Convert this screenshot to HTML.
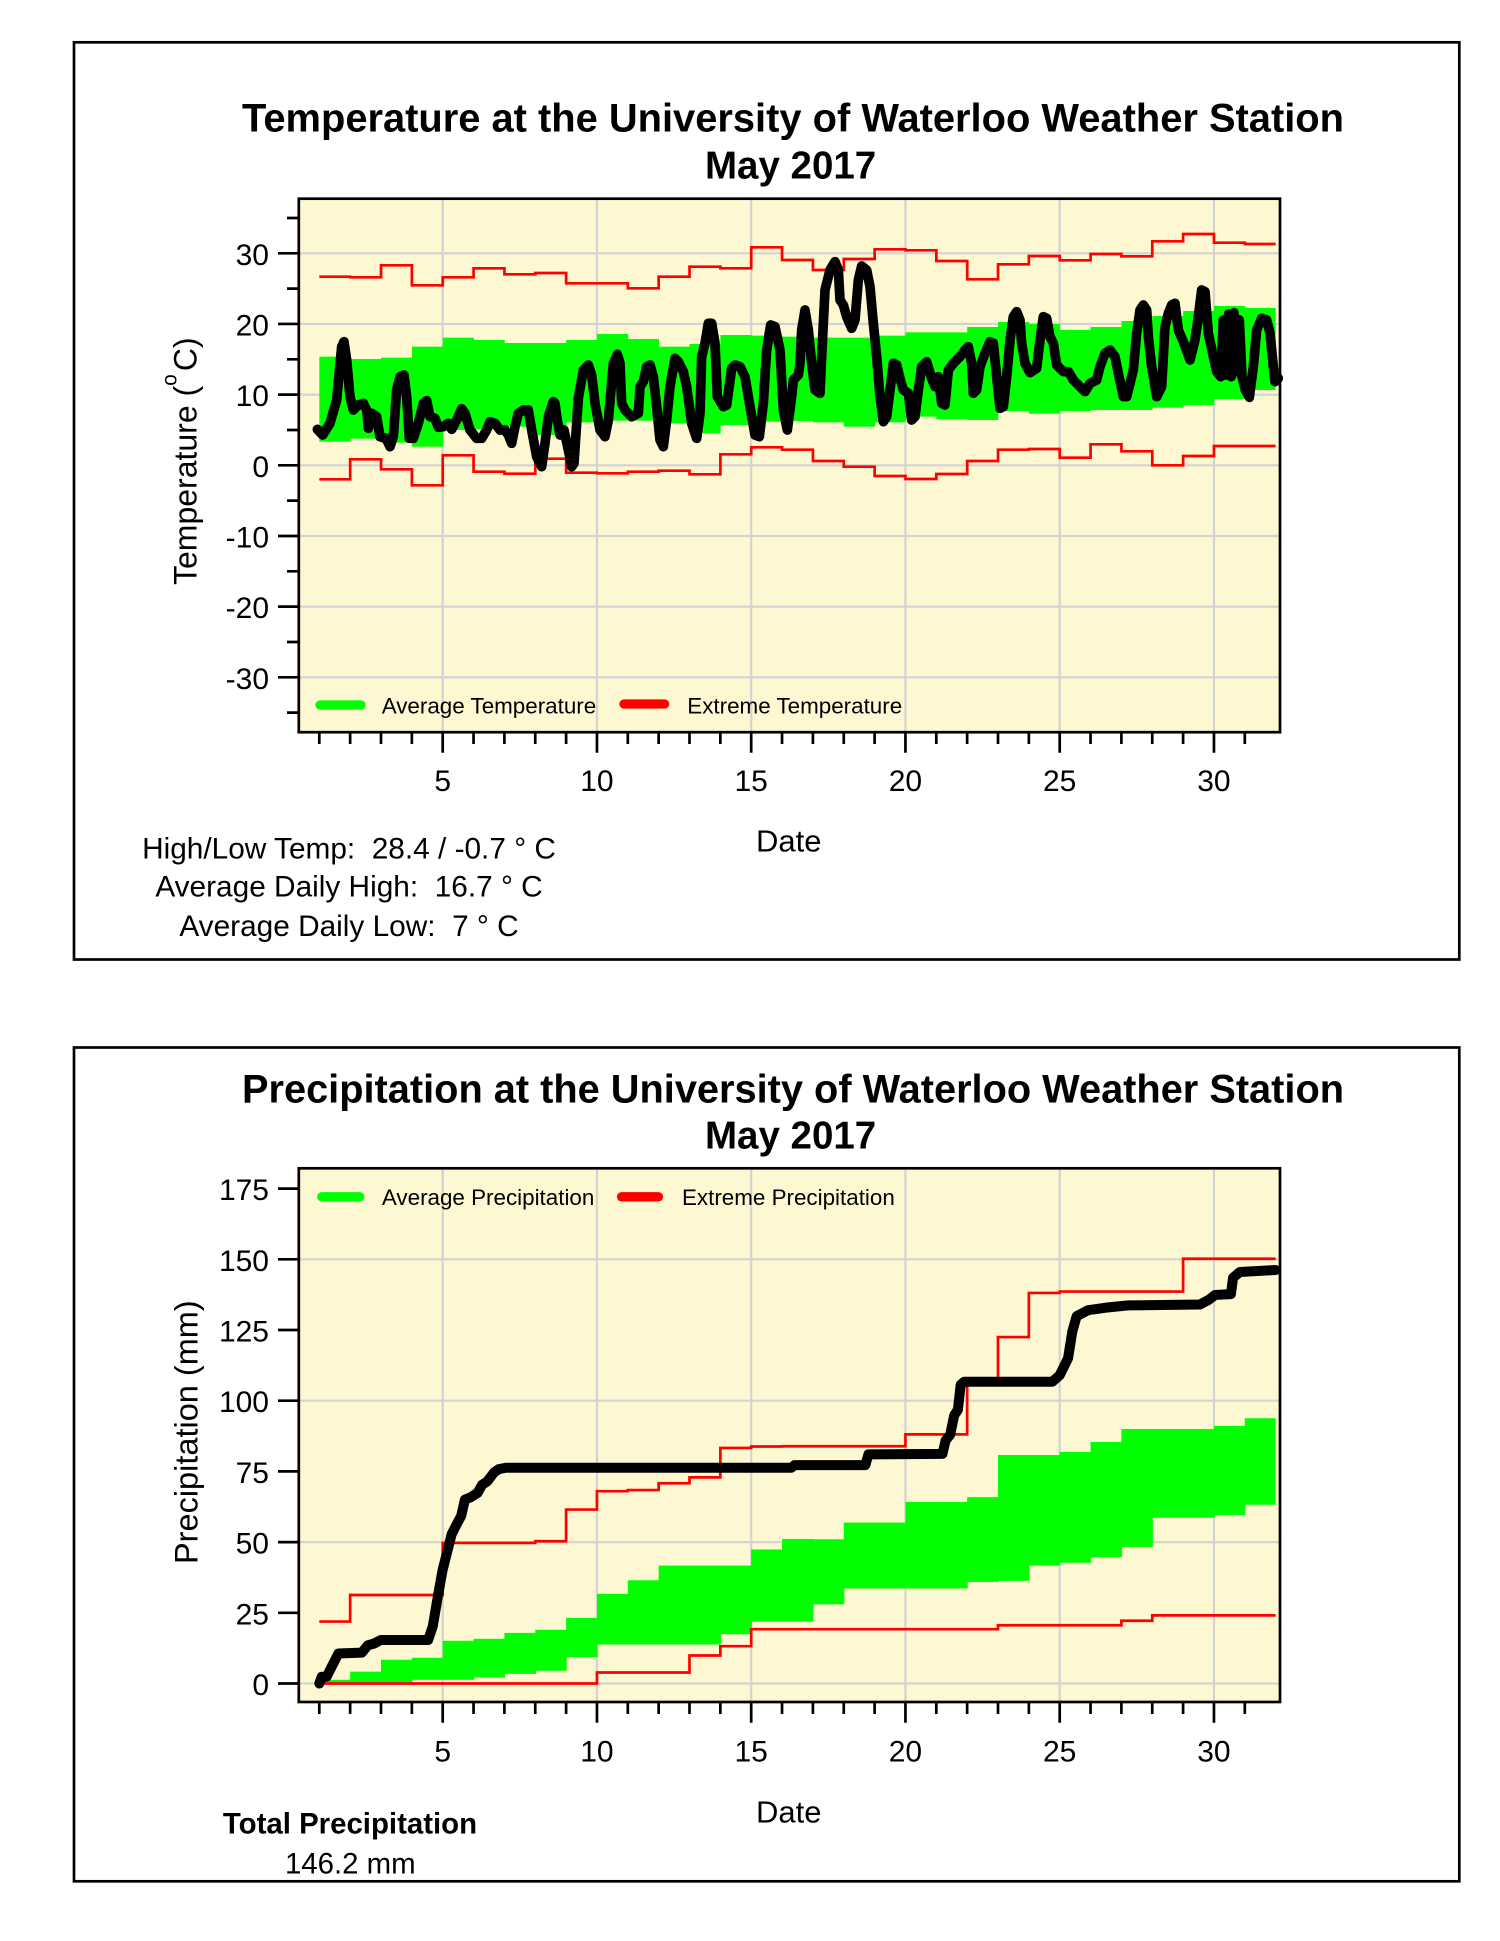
<!DOCTYPE html>
<html><head><meta charset="utf-8">
<style>
html,body{margin:0;padding:0;background:#fff}
svg{display:block}
text{font-family:"Liberation Sans",Arial,sans-serif;fill:#000}
</style></head>
<body>
<svg width="1500" height="1941" viewBox="0 0 1500 1941" xmlns="http://www.w3.org/2000/svg">
<rect x="0" y="0" width="1500" height="1941" fill="#fff"/>

<!-- ================= TEMPERATURE CHART ================= -->
<rect x="74" y="42.3" width="1385.3" height="917.2" fill="none" stroke="#000" stroke-width="2.7"/>
<text x="793" y="131.7" text-anchor="middle" font-size="39.5" font-weight="bold" textLength="1102" lengthAdjust="spacingAndGlyphs">Temperature at the University of Waterloo Weather Station</text>
<text x="790.6" y="178.3" text-anchor="middle" font-size="38.5" font-weight="bold">May 2017</text>

<!-- plot bg -->
<rect x="298.8" y="198.7" width="981.2" height="533.5" fill="#FDF8D1"/>
<!-- grid -->
<path d="M442.7 198.7V732.2M596.95 198.7V732.2M751.2 198.7V732.2M905.45 198.7V732.2M1059.7 198.7V732.2M1213.95 198.7V732.2M298.8 253.29H1280M298.8 323.96H1280M298.8 394.63H1280M298.8 465.3H1280M298.8 535.97H1280M298.8 606.6H1280M298.8 677.3H1280" stroke="#D3D3D3" stroke-width="2.2" fill="none"/>

<g transform="translate(300,190) scale(0.333333)">
<g fill="#00ff00">
<rect x="58" y="500" width="93.5" height="255"/>
<rect x="150.55" y="507" width="93.5" height="239"/>
<rect x="243.1" y="503" width="93.5" height="255"/>
<rect x="335.65" y="470" width="93.5" height="300"/>
<rect x="428.2" y="443" width="93.5" height="277"/>
<rect x="520.75" y="450" width="93.5" height="268"/>
<rect x="613.3" y="459" width="93.5" height="251"/>
<rect x="705.85" y="459" width="93.5" height="276"/>
<rect x="798.4" y="450" width="93.5" height="247"/>
<rect x="890.95" y="432" width="93.5" height="260"/>
<rect x="983.5" y="447" width="93.5" height="245"/>
<rect x="1076.05" y="470" width="93.5" height="230"/>
<rect x="1168.6" y="462" width="93.5" height="268"/>
<rect x="1261.15" y="435" width="93.5" height="270"/>
<rect x="1353.7" y="437" width="93.5" height="258"/>
<rect x="1446.25" y="440" width="93.5" height="253"/>
<rect x="1538.8" y="443" width="93.5" height="254"/>
<rect x="1631.35" y="443" width="93.5" height="267"/>
<rect x="1723.9" y="437" width="93.5" height="260"/>
<rect x="1816.45" y="427" width="93.5" height="253"/>
<rect x="1909" y="427" width="93.5" height="261"/>
<rect x="2001.55" y="411" width="93.5" height="279"/>
<rect x="2094.1" y="396" width="93.5" height="267"/>
<rect x="2186.65" y="402" width="93.5" height="269"/>
<rect x="2279.2" y="420" width="93.5" height="243"/>
<rect x="2371.75" y="411" width="93.5" height="249"/>
<rect x="2464.3" y="393" width="93.5" height="267"/>
<rect x="2556.85" y="378" width="93.5" height="275"/>
<rect x="2649.4" y="363" width="93.5" height="282"/>
<rect x="2741.95" y="348" width="93.5" height="279"/>
<rect x="2834.5" y="354" width="92.5" height="246"/>
</g>
<path fill="none" stroke="#ff0000" stroke-width="8.1" d="M58,260 H150.55 V262 H243.1 V226 H335.65 V286 H428.2 V262 H520.75 V235 H613.3 V253 H705.85 V249 H798.4 V280 H983.5 V295 H1076.05 V260 H1168.6 V230 H1261.15 V235 H1353.7 V172 H1446.25 V210 H1538.8 V240 H1631.35 V207 H1723.9 V178 H1816.45 V181 H1909 V213 H2001.55 V268 H2094.1 V223 H2186.65 V198 H2279.2 V211 H2371.75 V192 H2464.3 V199 H2556.85 V154 H2649.4 V132 H2741.95 V158 H2834.5 V162 H2927"/>
<path fill="none" stroke="#ff0000" stroke-width="8.1" d="M58,868 H150.55 V808 H243.1 V838 H335.65 V886 H428.2 V796 H520.75 V845 H613.3 V851 H705.85 V806 H798.4 V848 H890.95 V850 H983.5 V845 H1076.05 V842 H1168.6 V853 H1261.15 V793 H1353.7 V772 H1446.25 V779 H1538.8 V813 H1631.35 V830 H1723.9 V858 H1816.45 V867 H1909 V852 H2001.55 V813 H2094.1 V779 H2186.65 V777 H2279.2 V803 H2371.75 V763 H2464.3 V784 H2556.85 V826 H2649.4 V798 H2741.95 V768 H2927"/>
<polyline fill="none" stroke="#000" stroke-width="29" stroke-linejoin="round" stroke-linecap="round" points="52,718 68,735 90,700 110,630 125,470 132,455 140,510 150,620 160,660 175,645 190,640 200,660 205,715 215,670 230,680 240,740 258,745 270,770 280,740 290,600 300,560 312,555 320,620 328,745 340,745 355,700 370,640 380,632 390,680 405,685 415,712 430,710 445,700 455,718 470,690 485,656 495,670 510,720 530,745 545,745 560,720 570,695 585,700 600,720 615,720 625,735 635,760 645,710 655,670 670,660 685,660 695,720 710,800 725,830 735,760 745,680 760,635 765,640 770,680 780,735 792,720 805,780 815,830 822,820 835,625 850,540 865,525 875,555 885,640 900,720 915,740 925,690 940,520 952,493 960,520 965,640 975,660 995,680 1015,670 1020,590 1030,575 1040,530 1050,525 1060,560 1070,650 1080,750 1090,770 1100,690 1110,590 1125,505 1135,515 1150,545 1160,590 1175,700 1190,745 1200,670 1205,500 1215,460 1225,400 1235,400 1245,460 1252,620 1270,650 1280,645 1295,535 1305,525 1320,530 1335,560 1350,650 1365,735 1378,740 1390,640 1400,480 1412,405 1425,410 1440,480 1450,660 1462,720 1475,620 1480,570 1495,555 1500,520 1505,420 1515,360 1525,420 1535,520 1545,600 1560,610 1565,500 1575,300 1590,240 1605,215 1615,240 1620,330 1630,345 1640,380 1655,415 1665,390 1675,270 1685,228 1700,240 1710,290 1720,400 1730,500 1740,620 1750,695 1760,680 1770,600 1780,520 1790,525 1800,565 1810,600 1825,610 1835,690 1845,680 1855,600 1865,530 1880,515 1895,565 1905,590 1915,560 1925,640 1935,645 1945,540 1960,520 1980,500 1995,480 2005,470 2015,520 2020,610 2030,600 2040,530 2055,490 2070,455 2080,460 2090,560 2100,655 2110,650 2120,560 2130,450 2140,380 2150,365 2160,390 2165,460 2175,520 2190,548 2210,535 2220,450 2230,380 2240,385 2250,440 2260,460 2270,525 2290,545 2305,545 2320,570 2340,590 2355,605 2370,580 2390,570 2400,530 2415,490 2430,480 2445,500 2455,550 2470,620 2480,620 2500,540 2510,430 2520,360 2530,345 2540,360 2545,440 2555,530 2570,620 2585,590 2595,410 2605,370 2615,345 2625,340 2635,420 2650,455 2670,510 2685,450 2695,380 2705,300 2715,305 2725,430 2740,500 2750,545 2762,560 2770,390 2778,555 2786,372 2794,560 2802,368 2810,545 2818,390 2826,560 2836,600 2848,622 2860,530 2870,420 2885,385 2900,390 2910,430 2920,530 2925,575 2935,565"/>
</g>

<!-- legend temp -->
<line x1="320" y1="705" x2="361" y2="705" stroke="#00ff00" stroke-width="9.3" stroke-linecap="round"/>
<text x="381.7" y="713.3" font-size="22.4">Average Temperature</text>
<line x1="624" y1="704" x2="664.6" y2="704" stroke="#ff0000" stroke-width="9.3" stroke-linecap="round"/>
<text x="687.3" y="713.3" font-size="22.4">Extreme Temperature</text>

<!-- plot border -->
<rect x="298.8" y="198.7" width="981.2" height="533.5" fill="none" stroke="#000" stroke-width="2.7"/>

<!-- y ticks temp -->
<path stroke="#000" stroke-width="2.7" fill="none" d="M278 253.29H298.8M278 323.96H298.8M278 394.63H298.8M278 465.3H298.8M278 535.97H298.8M278 606.6H298.8M278 677.3H298.8M287 217.97H298.8M287 288.63H298.8M287 359.3H298.8M287 429.97H298.8M287 500.6H298.8M287 571.3H298.8M287 642H298.8M287 712.6H298.8"/>
<g font-size="30" text-anchor="end">
<text x="269" y="264.8">30</text>
<text x="269" y="335.5">20</text>
<text x="269" y="406.1">10</text>
<text x="269" y="476.8">0</text>
<text x="269" y="547.5">-10</text>
<text x="269" y="618.1">-20</text>
<text x="269" y="688.8">-30</text>
</g>
<!-- x ticks temp -->
<path stroke="#000" stroke-width="2.7" fill="none" d="M319.3 732v12M350.15 732v12M381 732v12M411.85 732v12M473.55 732v12M504.4 732v12M535.25 732v12M566.1 732v12M627.8 732v12M658.65 732v12M689.5 732v12M720.35 732v12M782.05 732v12M812.9 732v12M843.75 732v12M874.6 732v12M936.3 732v12M967.15 732v12M998 732v12M1028.85 732v12M1090.55 732v12M1121.4 732v12M1152.25 732v12M1183.1 732v12M1244.8 732v12M442.7 732v20.7M596.95 732v20.7M751.2 732v20.7M905.45 732v20.7M1059.7 732v20.7M1213.95 732v20.7"/>
<g font-size="30" text-anchor="middle">
<text x="442.7" y="791">5</text>
<text x="596.95" y="791">10</text>
<text x="751.2" y="791">15</text>
<text x="905.45" y="791">20</text>
<text x="1059.7" y="791">25</text>
<text x="1213.95" y="791">30</text>
</g>
<text x="788.7" y="851.7" font-size="31" text-anchor="middle">Date</text>
<text transform="translate(196.7,585) rotate(-90)" font-size="32">Temperature (<tspan font-size="21" dy="-20">o</tspan><tspan dy="20" dx="3">C)</tspan></text>

<g font-size="29.8" text-anchor="middle">
<text x="349" y="858.3">High/Low Temp:&#160;&#160;28.4 / -0.7 ° C</text>
<text x="349" y="896.7">Average Daily High:&#160;&#160;16.7 ° C</text>
<text x="349" y="936">Average Daily Low:&#160;&#160;7 ° C</text>
</g>

<!-- ================= PRECIPITATION CHART ================= -->
<rect x="74" y="1047.5" width="1385.3" height="833.8" fill="none" stroke="#000" stroke-width="2.7"/>
<text x="793" y="1102.6" text-anchor="middle" font-size="39.5" font-weight="bold" textLength="1102" lengthAdjust="spacingAndGlyphs">Precipitation at the University of Waterloo Weather Station</text>
<text x="790.6" y="1148.6" text-anchor="middle" font-size="38.5" font-weight="bold">May 2017</text>

<rect x="298.8" y="1168.3" width="981.2" height="533.7" fill="#FDF8D1"/>
<path d="M442.7 1168.3V1702M596.95 1168.3V1702M751.2 1168.3V1702M905.45 1168.3V1702M1059.7 1168.3V1702M1213.95 1168.3V1702M298.8 1683.5H1280M298.8 1542.1H1280M298.8 1400.7H1280M298.8 1259.3H1280" stroke="#D3D3D3" stroke-width="2.2" fill="none"/>

<g transform="matrix(30.85 0 0 -2.828 288.45 1683.5)">
<g fill="#00ff00">
<rect x="1" y="0" width="1.02" height="1.3"/>
<rect x="2" y="0" width="1.02" height="4.2"/>
<rect x="3" y="0.3" width="1.02" height="8.1"/>
<rect x="4" y="1.3" width="1.02" height="7.8"/>
<rect x="5" y="1.3" width="1.02" height="13.8"/>
<rect x="6" y="2.1" width="1.02" height="13.7"/>
<rect x="7" y="3.4" width="1.02" height="14.5"/>
<rect x="8" y="4.5" width="1.02" height="14.5"/>
<rect x="9" y="9.3" width="1.02" height="13.9"/>
<rect x="10" y="13.8" width="1.02" height="17.9"/>
<rect x="11" y="13.8" width="1.02" height="22.7"/>
<rect x="12" y="13.8" width="1.02" height="27.9"/>
<rect x="13" y="13.8" width="1.02" height="27.9"/>
<rect x="14" y="17.4" width="1.02" height="24.3"/>
<rect x="15" y="21.9" width="1.02" height="25.5"/>
<rect x="16" y="21.9" width="1.02" height="29.2"/>
<rect x="17" y="28" width="1.02" height="23"/>
<rect x="18" y="33.6" width="1.02" height="23.3"/>
<rect x="19" y="33.6" width="1.02" height="23.3"/>
<rect x="20" y="33.6" width="1.02" height="30.6"/>
<rect x="21" y="33.6" width="1.02" height="30.6"/>
<rect x="22" y="35.9" width="1.02" height="30"/>
<rect x="23" y="36.3" width="1.02" height="44.5"/>
<rect x="24" y="41.7" width="1.02" height="39.1"/>
<rect x="25" y="42.7" width="1.02" height="39.2"/>
<rect x="26" y="44.7" width="1.02" height="40.7"/>
<rect x="27" y="48.3" width="1.02" height="41.7"/>
<rect x="28" y="58.6" width="1.02" height="31.4"/>
<rect x="29" y="58.6" width="1.02" height="31.4"/>
<rect x="30" y="59.6" width="1.02" height="31.5"/>
<rect x="31" y="63.2" width="1" height="30.6"/>
</g>
<path fill="none" stroke="#ff0000" stroke-width="2.7" vector-effect="non-scaling-stroke" d="M1,21.9 H2 V31.3 H5 V49.7 H8 V50.3 H9 V61.5 H10 V68 H11 V68.4 H12 V70.8 H13 V72.9 H14 V83.3 H15 V83.8 H16 V83.9 H20 V88.1 H22 V105.6 H23 V122.5 H24 V138.1 H25 V138.6 H29 V150.2 H32"/>
<path fill="none" stroke="#ff0000" stroke-width="2.7" vector-effect="non-scaling-stroke" d="M1,0 H10 V3.9 H13 V9.9 H14 V13.2 H15 V19.2 H23 V20.6 H27 V22.2 H28 V24.1 H32"/>
<polyline fill="none" stroke="#000" stroke-width="10" stroke-linejoin="round" stroke-linecap="round" vector-effect="non-scaling-stroke" points="1,0 1.08,2.4 1.24,2.4 1.39,5.7 1.62,10.6 2.38,10.9 2.57,13.5 2.77,14.1 3,15.4 4.53,15.4 4.68,20.3 4.83,30 4.99,39.8 5.14,46.3 5.29,52.8 5.44,56 5.6,59.3 5.72,65 5.9,65.8 6.13,67.4 6.28,70.3 6.44,71.4 6.67,74.7 6.82,75.8 7.05,76.3 16.3,76.3 16.4,77.2 18.7,77.2 18.8,81 21.2,81.2 21.3,85.9 21.45,88 21.58,94.8 21.7,96.8 21.79,105.6 21.9,106.7 24.76,106.7 25,109 25.27,115 25.41,124.5 25.55,129.9 25.92,132 26.5,132.9 27.22,133.7 29.54,134 29.82,135.6 30.04,137.4 30.55,137.7 30.62,143.5 30.84,145.5 32,146.2"/>
</g>

<!-- legend precip -->
<line x1="321.8" y1="1196.8" x2="359.8" y2="1196.8" stroke="#00ff00" stroke-width="9.3" stroke-linecap="round"/>
<text x="381.9" y="1205.1" font-size="22.4">Average Precipitation</text>
<line x1="621.5" y1="1196.8" x2="658.5" y2="1196.8" stroke="#ff0000" stroke-width="9.3" stroke-linecap="round"/>
<text x="682" y="1205.1" font-size="22.4">Extreme Precipitation</text>

<rect x="298.8" y="1168.3" width="981.2" height="533.7" fill="none" stroke="#000" stroke-width="2.7"/>

<path stroke="#000" stroke-width="2.7" fill="none" d="M278 1683.5H298.8M278 1612.8H298.8M278 1542.1H298.8M278 1471.4H298.8M278 1400.7H298.8M278 1330H298.8M278 1259.3H298.8M278 1188.6H298.8"/>
<g font-size="30" text-anchor="end">
<text x="269" y="1695">0</text>
<text x="269" y="1624.3">25</text>
<text x="269" y="1553.6">50</text>
<text x="269" y="1482.9">75</text>
<text x="269" y="1412.2">100</text>
<text x="269" y="1341.5">125</text>
<text x="269" y="1270.8">150</text>
<text x="269" y="1200.1">175</text>
</g>
<path stroke="#000" stroke-width="2.7" fill="none" d="M319.3 1702v12M350.15 1702v12M381 1702v12M411.85 1702v12M473.55 1702v12M504.4 1702v12M535.25 1702v12M566.1 1702v12M627.8 1702v12M658.65 1702v12M689.5 1702v12M720.35 1702v12M782.05 1702v12M812.9 1702v12M843.75 1702v12M874.6 1702v12M936.3 1702v12M967.15 1702v12M998 1702v12M1028.85 1702v12M1090.55 1702v12M1121.4 1702v12M1152.25 1702v12M1183.1 1702v12M1244.8 1702v12M442.7 1702v20.7M596.95 1702v20.7M751.2 1702v20.7M905.45 1702v20.7M1059.7 1702v20.7M1213.95 1702v20.7"/>
<g font-size="30" text-anchor="middle">
<text x="442.7" y="1761.7">5</text>
<text x="596.95" y="1761.7">10</text>
<text x="751.2" y="1761.7">15</text>
<text x="905.45" y="1761.7">20</text>
<text x="1059.7" y="1761.7">25</text>
<text x="1213.95" y="1761.7">30</text>
</g>
<text x="788.7" y="1822.7" font-size="31" text-anchor="middle">Date</text>
<text transform="translate(197.5,1564) rotate(-90)" font-size="32.5">Precipitation (mm)</text>

<text x="350" y="1833.3" font-size="29.4" font-weight="bold" text-anchor="middle">Total Precipitation</text>
<text x="350.3" y="1873.3" font-size="29.4" text-anchor="middle">146.2 mm</text>
</svg>
</body></html>
